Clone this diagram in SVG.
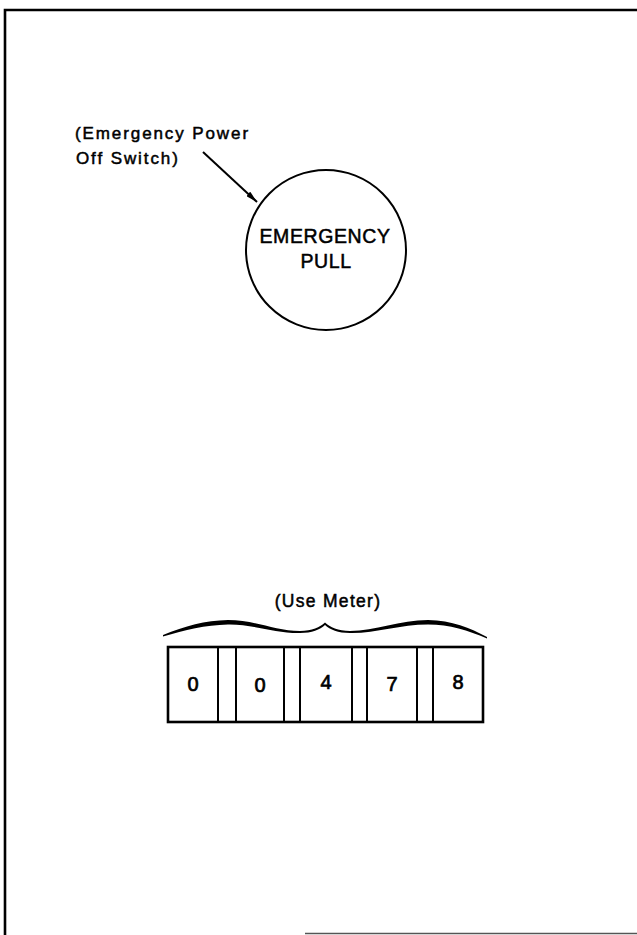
<svg xmlns="http://www.w3.org/2000/svg" width="637" height="935" viewBox="0 0 637 935">
<style>
  .t { font-family: "Liberation Sans", Arial, Helvetica, sans-serif; fill: #000; stroke: #000; stroke-width: 0.5; }
  .d { font-family: "Liberation Sans", Arial, Helvetica, sans-serif; fill: #000; stroke: #000; stroke-width: 0.7; font-size: 20px; text-anchor: middle; }
  .ln { fill: none; stroke: #000; stroke-width: 2; }
  .frame { fill: none; stroke: #000; stroke-width: 2.6; }
</style>
<defs>
  <marker id="arr" viewBox="0 0 12 6" refX="12" refY="3" markerWidth="12" markerHeight="6" markerUnits="userSpaceOnUse" orient="auto">
    <path d="M0,0 L12,3 L0,6 Z" fill="#000"/>
  </marker>
</defs>
<rect width="637" height="935" fill="#fff"/>
<g id="frame">
  <path class="frame" d="M5,935 L5,10 L637,10"/>
  <path d="M305,933.5 L637,933.5" fill="none" stroke="#555" stroke-width="1.5"/>
</g>
<g id="label-epo">
  <text class="t" x="75" y="139" font-size="17" letter-spacing="1.9">(Emergency Power</text>
  <text class="t" x="76" y="164" font-size="17" letter-spacing="1.9">Off Switch)</text>
</g>
<g id="emergency-pull">
  <circle cx="326" cy="250" r="80" class="ln"/>
  <text class="t" x="325" y="243" font-size="19.5" letter-spacing="0.6" text-anchor="middle">EMERGENCY</text>
  <text class="t" x="326" y="268" font-size="19.5" letter-spacing="0.6" text-anchor="middle">PULL</text>
</g>
<g id="connectors">
  <line x1="203" y1="152" x2="257" y2="202" stroke="#000" stroke-width="2" marker-end="url(#arr)"/>
</g>
<g id="use-meter-label">
  <text class="t" x="328" y="607" font-size="17.5" letter-spacing="1.3" text-anchor="middle">(Use Meter)</text>
  <path d="M163,635 C185,626 205,620.5 228,620 C255,620 275,631 300,631 C312,631 320,627 325,622.5 C330,627 338,631 350,631 C375,631 400,620 428,620 C452,620.5 470,628 487,637 L487,638.5 C468,630.5 450,624.5 428,624.5 C400,624.5 375,633.5 350,633 C338,633 330,629.5 325,625 C320,629.5 312,633 300,633 C275,633.5 252,624 228,624.5 C205,625 185,630 163,636.5 Z" fill="#000"/>
</g>
<g id="use-meter">
  <rect x="168" y="647" width="315" height="75" fill="none" stroke="#000" stroke-width="2.6"/>
  <line class="ln" x1="218" y1="647" x2="218" y2="722"/>
  <line class="ln" x1="236" y1="647" x2="236" y2="722"/>
  <line class="ln" x1="284" y1="647" x2="284" y2="722"/>
  <line class="ln" x1="300" y1="647" x2="300" y2="722"/>
  <line class="ln" x1="352" y1="647" x2="352" y2="722"/>
  <line class="ln" x1="367" y1="647" x2="367" y2="722"/>
  <line class="ln" x1="417" y1="647" x2="417" y2="722"/>
  <line class="ln" x1="433" y1="647" x2="433" y2="722"/>
  <text class="d" x="193" y="691">0</text>
  <text class="d" x="260" y="692">0</text>
  <text class="d" x="326" y="689">4</text>
  <text class="d" x="392" y="691">7</text>
  <text class="d" x="458" y="689">8</text>
</g>
</svg>
